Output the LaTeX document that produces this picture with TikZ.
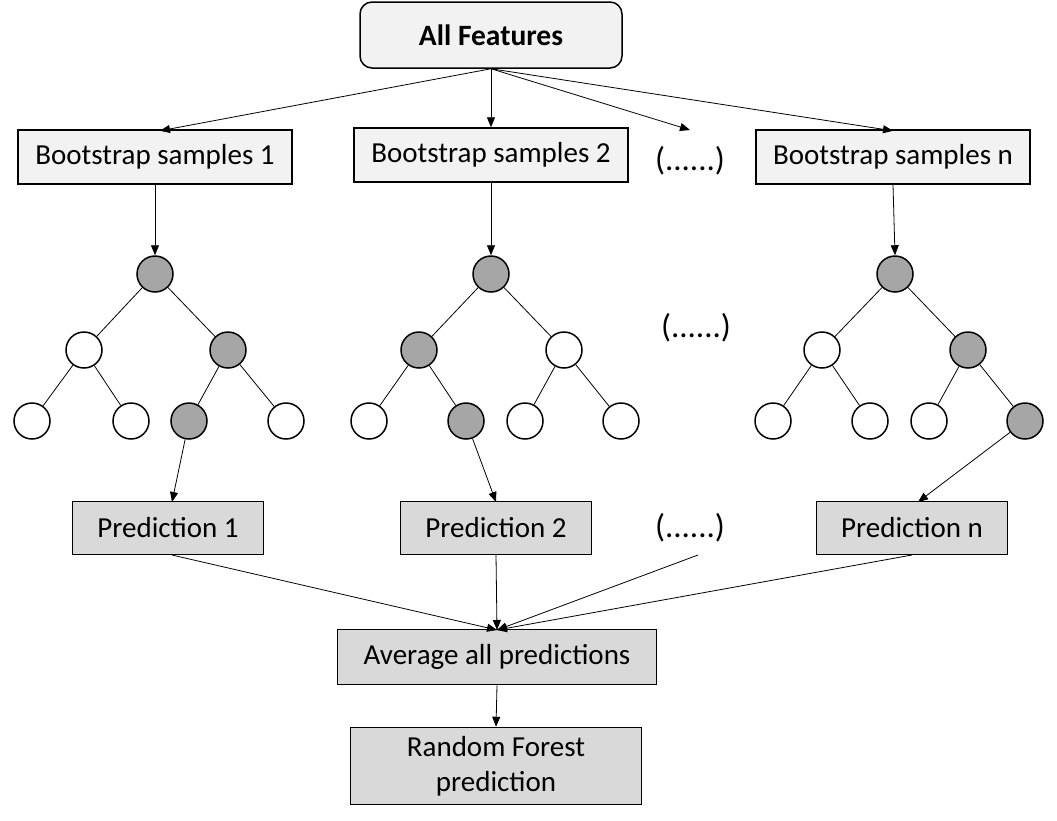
\documentclass[tikz,border=0pt]{standalone}
\usepackage{fontspec}
\setmainfont{Carlito}
\usetikzlibrary{arrows.meta}
\begin{document}
\begin{tikzpicture}[x=1pt,y=-1pt,
  every node/.style={font=\fontsize{29}{35}\selectfont},
  top/.style={draw, line width=1.5pt, rounded corners=12pt, fill=black!5, minimum width=262pt, minimum height=66pt, font=\fontsize{29.5}{35}\selectfont\bfseries},
  bsbox/.style={draw, line width=1.5pt, fill=black!5, minimum width=274pt, minimum height=54pt, inner sep=0pt},
  predbox/.style={draw, line width=1.5pt, fill=black!15, minimum width=191pt, minimum height=53pt, inner sep=0pt},
  avgbox/.style={draw, line width=1.5pt, fill=black!15, minimum width=319pt, minimum height=55pt, inner sep=0pt},
  rfbox/.style={draw, line width=1.5pt, fill=black!15, minimum width=291pt, minimum height=77pt, inner sep=0pt, align=center, font=\fontsize{29}{35}\selectfont},
  dots/.style={inner sep=0pt, font=\fontsize{33}{36}\selectfont},
  gn/.style={circle, draw, line width=1.5pt, fill=black!35, minimum size=36pt, inner sep=0pt},
  wn/.style={circle, draw, line width=1.5pt, fill=white, minimum size=36pt, inner sep=0pt},
  arr/.style={-{Triangle[length=10pt,width=8pt]}, line width=0.8pt},
  ln/.style={line width=0.8pt}]
\useasboundingbox (0,0) rectangle (1057,820);

\node[top] (all) at (491,35) {All Features};
\node[bsbox] (b1) at (155,157) {Bootstrap samples 1};
\node[bsbox] (b2) at (491,155) {Bootstrap samples 2};
\node[dots] (d1) at (690,161) {(......)};
\node[bsbox] (bn) at (893,157) {Bootstrap samples n};

\coordinate (d1t) at (690,130);
\draw[arr] (all.south) -- (160,130.8) coordinate (b1t);
\draw[arr] (all.south) -- (b2.north);
\draw[arr] (all.south) -- (d1t);
\draw[arr] (all.south) -- (893,130.8) coordinate (bnt);

% tree 1
\node[gn] (r1) at (155,274) {};
\node[wn] (a1) at (84,350) {};
\node[gn] (c1) at (228,350) {};
\node[wn] (l11) at (32,421) {};
\node[wn] (l12) at (131,421) {};
\node[gn] (l13) at (189,421) {};
\node[wn] (l14) at (286,421) {};
% tree 2
\node[gn] (r2) at (491,274) {};
\node[gn] (a2) at (419,350) {};
\node[wn] (c2) at (564,350) {};
\node[wn] (l21) at (369,421) {};
\node[gn] (l22) at (466,421) {};
\node[wn] (l23) at (525,421) {};
\node[wn] (l24) at (621,421) {};
% tree 3
\node[gn] (r3) at (895,274) {};
\node[wn] (a3) at (822,350) {};
\node[gn] (c3) at (968,350) {};
\node[wn] (l31) at (773,421) {};
\node[wn] (l32) at (870,421) {};
\node[wn] (l33) at (929,421) {};
\node[gn] (l34) at (1025,421) {};

\node[dots] (d2) at (696,328) {(......)};

\foreach \t in {1,2,3}{
  \draw[ln] (r\t) -- (a\t);
  \draw[ln] (r\t) -- (c\t);
  \draw[ln] (a\t) -- (l\t1);
  \draw[ln] (a\t) -- (l\t2);
  \draw[ln] (c\t) -- (l\t3);
  \draw[ln] (c\t) -- (l\t4);
}

\draw[arr] (b1.south) -- (r1.north);
\draw[arr] (b2.south) -- (r2.north);
\draw[arr] (bn.south) -- (r3.north);

% predictions
\node[predbox] (p1) at (168,528) {Prediction 1};
\node[predbox] (p2) at (496,528) {Prediction 2};
\node[dots] (d3) at (690,528) {(......)};
\node[predbox] (pn) at (912,528) {Prediction n};

\draw[arr] (l13) -- (172,502) coordinate (p1t);
\draw[arr] (l22) -- (496,502) coordinate (p2t);
\draw[arr] (l34) -- (918,502) coordinate (pnt);

\node[avgbox] (avg) at (497,657) {Average all predictions};
\node[rfbox] (rf) at (496,766) {Random Forest\\prediction};

\coordinate (avt) at (497,630);
\coordinate (d3b) at (698,555);
\draw[arr] (172,555) coordinate (p1b) -- (avt);
\draw[arr] (496,555) coordinate (p2b) -- (avt);
\draw[arr] (d3b) -- (avt);
\draw[arr] (912,555) coordinate (pnb) -- (avt);
\draw[arr] (avg.south) -- (rf.north);
\end{tikzpicture}
\end{document}
